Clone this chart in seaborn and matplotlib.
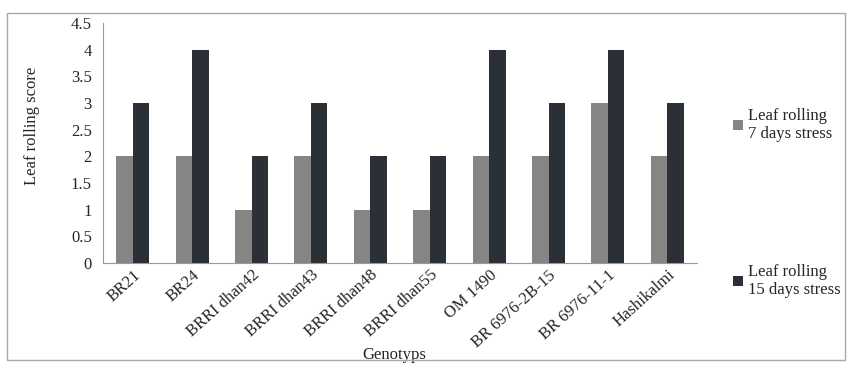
import pandas as pd
import matplotlib.pyplot as plt
import seaborn as sns
from matplotlib.patches import Rectangle

genotypes = ['BR21', 'BR24', 'BRRI dhan42', 'BRRI dhan43', 'BRRI dhan48',
             'BRRI dhan55', 'OM 1490', 'BR 6976-2B-15', 'BR 6976-11-1', 'Hashikalmi']
days7 = [2, 2, 1, 2, 1, 1, 2, 2, 3, 2]
days15 = [3, 4, 2, 3, 2, 2, 4, 3, 4, 3]
series = ['Leaf rolling\n7 days stress', 'Leaf rolling\n15 days stress']
colors = ['#858585', '#2b3036']
yticks = [0, 0.5, 1, 1.5, 2, 2.5, 3, 3.5, 4, 4.5]
ytick_labels = ['0', '0.5', '1', '1.5', '2', '2.5', '3', '3.5', '4', '4.5']

df = pd.DataFrame({
    'genotype': genotypes * 2,
    'score': days7 + days15,
    'series': [series[0]] * len(genotypes) + [series[1]] * len(genotypes),
})

sns.set_style('white')
plt.rcParams['font.family'] = ['Liberation Serif', 'DejaVu Serif']

fig = plt.figure(figsize=(8.5, 3.67), dpi=100)
ax = fig.add_axes([0.1212, 0.2834, 0.6988, 0.654])

sns.barplot(data=df, x='genotype', y='score', hue='series', palette=colors,
            width=0.555, saturation=1, linewidth=0, ax=ax, legend=True)

ax.set_yticks(yticks)
ax.set_yticklabels(ytick_labels)
ax.set_ylim(0, 4.5)
ax.set_xlim(-0.5, len(genotypes) - 0.5)
ax.set_ylabel('Leaf rolling score', fontsize=12)
ax.yaxis.set_label_coords(-0.106, 0.57)
ax.set_xlabel('Genotyps', fontsize=12)
ax.xaxis.set_label_coords(0.49, -0.35)
ax.tick_params(axis='y', labelsize=12, length=4, color='#999999', pad=4)
ax.tick_params(axis='x', which='major', length=0, labelsize=12, pad=3)
ax.set_xticks(range(len(genotypes)))
ax.set_xticklabels(genotypes, rotation=42, ha='right', rotation_mode='anchor')
ax.set_xticks([i - 0.5 for i in range(len(genotypes) + 1)], minor=True)
ax.tick_params(axis='x', which='minor', length=4, color='#999999', direction='out')
sns.despine(ax=ax)
for s in ['left', 'bottom']:
    ax.spines[s].set_color('#999999')
    ax.spines[s].set_linewidth(0.8)

handles, labels = ax.get_legend_handles_labels()
ax.get_legend().remove()
fig.legend(handles, labels, loc='upper left', bbox_to_anchor=(0.862, 0.707),
           frameon=False, fontsize=12, handlelength=0.6, handleheight=0.6,
           handletextpad=0.3, labelspacing=7.3, borderpad=0, borderaxespad=0)

fig.patches.append(Rectangle((0.008, 0.019), 0.986, 0.945, transform=fig.transFigure,
                             fill=False, edgecolor='#aaaaaa', linewidth=1))

fig.savefig('out.png', dpi=100)
